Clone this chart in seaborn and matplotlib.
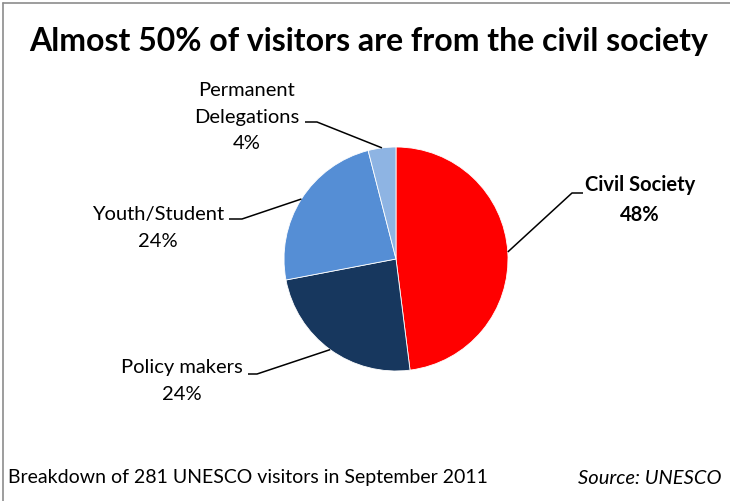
import numpy as np
import matplotlib
matplotlib.use("Agg")
import matplotlib.pyplot as plt
from matplotlib.lines import Line2D
import seaborn as sns

# Visitor breakdown, clockwise from 12 o'clock
categories = ["Civil Society", "Policy makers", "Youth/Student", "Permanent\nDelegations"]
shares = [48, 24, 24, 4]
colors = ["#FF0000", "#17375E", "#558ED5", "#8EB4E3"]

title = "Almost 50% of visitors are from the civil society"
footnote = "Breakdown of 281 UNESCO visitors in September 2011"
source = "Source: UNESCO"

sns.set_theme(style="white")
plt.rcParams["font.family"] = ["Lato", "DejaVu Sans"]

W, H = 730, 501
fig = plt.figure(figsize=(W / 100, H / 100), dpi=100)
fig.patch.set_facecolor("white")

# Axes spanning the whole figure; one data unit = one pixel (y up)
ax = fig.add_axes([0, 0, 1, 1])
cx, cy, r = 396, H - 259, 112
wedges, _ = ax.pie(shares, colors=colors, startangle=90, counterclock=False,
                   center=(cx, cy), radius=r,
                   wedgeprops=dict(edgecolor="white", linewidth=0.6))
ax.set_xlim(0, W)
ax.set_ylim(0, H)
ax.set_aspect("equal")
ax.axis("off")

# label block centre (x, y from top), elbow start/end x, elbow y, bold?
label_layout = [
    (640, 200, 583, 572, 193, True),
    (182, 381, 248, 257, 374, False),
    (158, 228, 229, 242, 219, False),
    (247, 117, 305, 317, 122, False),
]

for w, cat, val, (lx, ly, ex0, ex1, ey, bold) in zip(wedges, categories, shares, label_layout):
    mid = np.deg2rad((w.theta1 + w.theta2) / 2)
    px, py = cx + r * np.cos(mid), cy + r * np.sin(mid)
    ax.plot([ex0, ex1, px], [H - ey, H - ey, py], color="black", lw=1.1,
            solid_capstyle="butt", clip_on=False)
    ax.text(lx, H - ly, f"{cat}\n{val}%", ha="center", va="center",
            fontsize=14.5, fontweight="bold" if bold else "normal",
            color="black", linespacing=1.65, multialignment="center")

fig.text(369 / W, 1 - 42 / H, title, ha="center", va="center",
         fontsize=23, fontweight="bold", color="black")
fig.text(8 / W, 1 - 478 / H, footnote, ha="left", va="center",
         fontsize=14, color="black")
fig.text(722 / W, 1 - 478 / H, source, ha="right", va="center",
         fontsize=14.5, style="italic", color="black")

# Frame around the chart area
bx, by = 3 / W, 1 - 3 / H
fig.add_artist(Line2D([bx, 1], [by, by], color="#8c8c8c", lw=1.2, transform=fig.transFigure))
fig.add_artist(Line2D([bx, bx], [0, by], color="#8c8c8c", lw=1.2, transform=fig.transFigure))

fig.savefig("out.png", dpi=100, facecolor="white")
